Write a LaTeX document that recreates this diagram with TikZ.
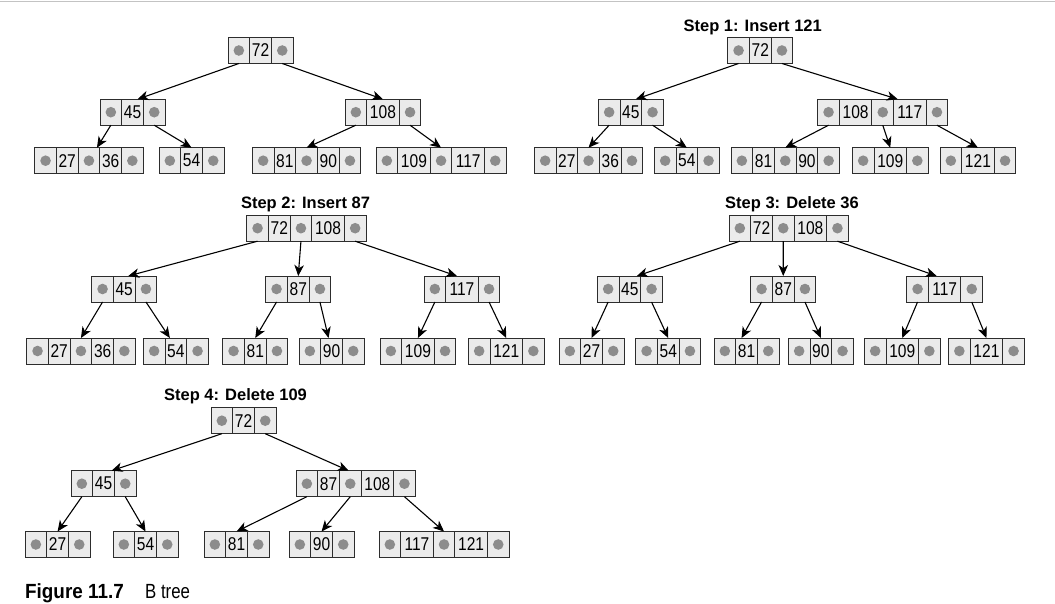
\documentclass[tikz,border=0pt]{standalone}
\usepackage{fontspec}
\setmainfont{Liberation Sans}
\newfontfamily\numfont[FakeStretch=0.84]{Liberation Sans}
\newfontfamily\capfontB[FakeStretch=0.92]{Liberation Sans}
\newfontfamily\capfontR[FakeStretch=0.82]{Liberation Sans}
\usetikzlibrary{arrows.meta,fit}
\definecolor{cellfill}{RGB}{235,235,235}
\definecolor{dotgray}{RGB}{140,140,140}
\definecolor{cellborder}{RGB}{45,45,45}
\definecolor{rulegray}{RGB}{195,195,195}
\tikzset{
  cellbox/.style={draw=cellborder, fill=cellfill, line width=0.95pt, inner sep=0pt,
    outer sep=0pt, minimum height=26pt, font={\fontsize{18.5}{20}\numfont}},
  dotfill/.style={fill=dotgray},
  arr/.style={-{Stealth[length=11pt,width=9.5pt,inset=3.2pt]}, line width=1.1pt, black},
  steptitle/.style={anchor=base, inner sep=0pt, font={\fontsize{16.5}{18}\selectfont\bfseries}},
}
\newcommand\bnode[3]{%
  \node[cellbox, minimum width=21.7pt, anchor=west] (#1-0) at (#2) {};
  \fill[dotfill] (#1-0.center) circle[radius=5.3pt];
  \foreach \k [count=\i] in {#3} {%
    \pgfmathtruncatemacro\prv{2*\i-2}%
    \pgfmathtruncatemacro\cur{2*\i-1}%
    \pgfmathtruncatemacro\nxt{2*\i}%
    \ifnum\k>99 \def\kw{32.5pt}\else\def\kw{21.7pt}\fi
    \node[cellbox, minimum width=\kw, anchor=west] (#1-\cur) at (#1-\prv.east) {\k};
    \node[cellbox, minimum width=21.7pt, anchor=west] (#1-\nxt) at (#1-\cur.east) {};
    \fill[dotfill] (#1-\nxt.center) circle[radius=5.3pt];
    \xdef\lastidx{\nxt}%
  }%
  \node[fit=(#1-0)(#1-\lastidx), inner sep=0pt, outer sep=0pt] (#1) {};
}
\begin{document}
\begin{tikzpicture}[x=1pt,y=-1pt]
\useasboundingbox (0,0) rectangle (1055,603);
\fill[white] (0,0) rectangle (1055,603);
\draw[rulegray, line width=1.5pt] (0,1.5) -- (1055,1.5);

% ---------- Tree 0 ----------
\bnode{a0}{228,50.5}{72}
\bnode{a1}{100,112.2}{45}
\bnode{a2}{345,112.2}{108}
\bnode{a3}{34.7,160.7}{27,36}
\bnode{a4}{159,160.7}{54}
\bnode{a5}{252.3,160.7}{81,90}
\bnode{a6}{376,160.7}{109,117}
\draw[arr] (a0-0.south) -- ([xshift=5pt]a1.north);
\draw[arr] (a0-2.south) -- (a2.north);
\draw[arr] (a1-0.south) -- ([xshift=8pt]a3.north);
\draw[arr] (a1-2.south) -- (a4.north);
\draw[arr] (a2-0.south) -- (a5.north);
\draw[arr] (a2-2.south) -- (a6.north);

% ---------- Tree 1 ----------
\node[steptitle] (t1) at (752.7,31.5) {Step 1: Insert 121};
\bnode{b0}{727.7,50.5}{72}
\bnode{b1}{598.3,112.2}{45}
\bnode{b2}{817.7,112.2}{108,117}
\bnode{b3}{534.3,160.7}{27,36}
\bnode{b4}{654.3,160.7}{54}
\bnode{b5}{731,160.7}{81,90}
\bnode{b6}{852.3,160.7}{109}
\bnode{b7}{940,160.7}{121}
\draw[arr] (b0-0.south) -- ([xshift=5pt]b1.north);
\draw[arr] (b0-2.south) -- ([xshift=15pt]b2.north);
\draw[arr] (b1-0.south) -- (b3.north);
\draw[arr] (b1-2.south) -- (b4.north);
\draw[arr] (b2-0.south) -- (b5.north);
\draw[arr] (b2-2.south) -- (b6.north);
\draw[arr] (b2-4.south) -- (b7.north);

% ---------- Tree 2 ----------
\node[steptitle] (t2) at (305.5,208.5) {Step 2: Insert 87};
\bnode{c0}{246.7,228.2}{72,108}
\bnode{c1}{91.7,289}{45}
\bnode{c2}{265.7,289}{87}
\bnode{c3}{424,289}{117}
\bnode{c4}{26.7,351}{27,36}
\bnode{c5}{143.3,351}{54}
\bnode{c6}{222.7,351}{81}
\bnode{c7}{299,351}{90}
\bnode{c8}{380,351}{109}
\bnode{c9}{468.3,351}{121}
\draw[arr] (c0-0.south) -- ([xshift=4pt]c1.north);
\draw[arr] (c0-2.south) -- (c2.north);
\draw[arr] (c0-4.south) -- ([xshift=-5pt]c3.north);
\draw[arr] (c1-0.south) -- (c4.north);
\draw[arr] (c1-2.south) -- ([xshift=-6pt]c5.north);
\draw[arr] (c2-0.south) -- (c6.north);
\draw[arr] (c2-2.south) -- ([xshift=-3pt]c7.north);
\draw[arr] (c3-0.south) -- (c8.north);
\draw[arr] (c3-2.south) -- (c9.north);

% ---------- Tree 3 ----------
\node[steptitle] (t3) at (792,208.5) {Step 3: Delete 36};
\bnode{d0}{729,228.2}{72,108}
\bnode{d1}{597.3,289}{45}
\bnode{d2}{750.7,289}{87}
\bnode{d3}{906.7,289}{117}
\bnode{d4}{559,351}{27}
\bnode{d5}{635.7,351}{54}
\bnode{d6}{714,351}{81}
\bnode{d7}{788.3,351}{90}
\bnode{d8}{864.3,351}{109}
\bnode{d9}{948.5,351}{121}
\draw[arr] (d0-0.south) -- ([xshift=7pt]d1.north);
\draw[arr] (d0-2.south) -- (d2.north);
\draw[arr] (d0-4.south) -- ([xshift=-8pt]d3.north);
\draw[arr] (d1-0.south) -- (d4.north);
\draw[arr] (d1-2.south) -- (d5.north);
\draw[arr] (d2-0.south) -- ([xshift=-5pt]d6.north);
\draw[arr] (d2-2.south) -- (d7.north);
\draw[arr] (d3-0.south) -- (d8.north);
\draw[arr] (d3-2.south) -- (d9.north);

% ---------- Tree 4 ----------
\node[steptitle] (t4) at (235.5,400) {Step 4: Delete 109};
\bnode{e0}{211,420.7}{72}
\bnode{e1}{71,483.7}{45}
\bnode{e2}{296,483.7}{87,108}
\bnode{e3}{25,544.5}{27}
\bnode{e4}{113,544.5}{54}
\bnode{e5}{204,544.5}{81}
\bnode{e6}{289,544.5}{90}
\bnode{e7}{379,544.5}{117,121}
\draw[arr] (e0-0.south) -- ([xshift=8pt]e1.north);
\draw[arr] (e0-2.south) -- ([xshift=-7pt]e2.north);
\draw[arr] (e1-0.south) -- (e3.north);
\draw[arr] (e1-2.south) -- (e4.north);
\draw[arr] (e2-0.south) -- (e5.north);
\draw[arr] (e2-2.south) -- (e6.north);
\draw[arr] (e2-4.south) -- (e7.north);

% ---------- Caption ----------
\node[anchor=base west, inner sep=0pt, font={\fontsize{20.5}{22}\capfontB\bfseries}] (capA) at (25,598.3) {Figure 11.7};
\node[anchor=base west, inner sep=0pt, font={\fontsize{20.5}{22}\capfontR}] (capB) at (145,598.3) {B tree};
\end{tikzpicture}
\end{document}
